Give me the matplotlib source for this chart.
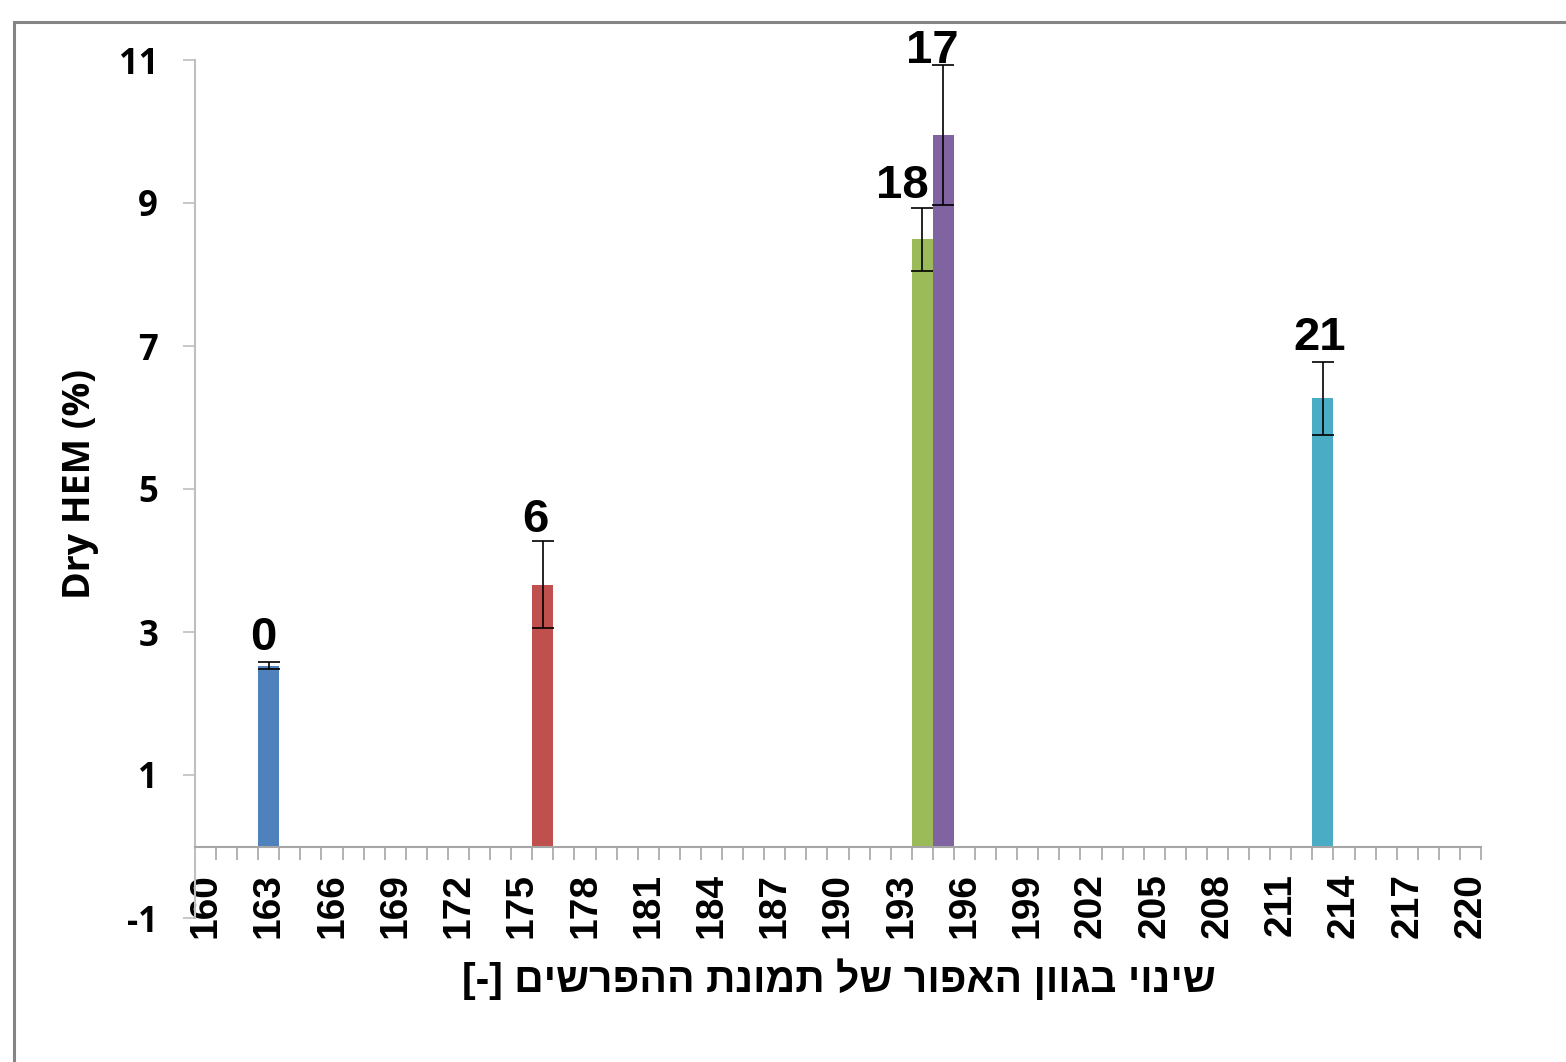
import matplotlib
matplotlib.use("Agg")
import matplotlib.pyplot as plt
import numpy as np
from matplotlib.patches import Rectangle

# category axis: every integer from 160 to 220, a label on every third one
categories = list(range(160, 221))
label_step = 3

# bars (category, mean, error, data label, colour)
bar_x = [163, 176, 194, 195, 213]
bar_values = [2.53, 3.66, 8.49, 9.95, 6.27]
bar_errors = [0.05, 0.61, 0.44, 0.98, 0.51]
bar_labels = ["0", "6", "18", "17", "21"]
bar_colors = ["#4F81BD", "#C0504D", "#9BBB59", "#8064A2", "#4BACC6"]
label_dx = [-5, -7, -20, -11, -3]   # nudge of the data labels, px
label_dy = [12, 9, 10, 2, 12]

y_ticks = [-1, 1, 3, 5, 7, 9, 11]
y_label = "Dry HEM (%)"
x_label = "שינוי בגוון האפור של תמונת ההפרשים"

W, H = 1566, 1062
fig = plt.figure(figsize=(W / 100, H / 100), dpi=100)
ax = fig.add_axes([195 / W, 1 - 918 / H, (1481 - 195) / W, (918 - 60) / H])

pos = [categories.index(x) for x in bar_x]
ax.bar(pos, bar_values, width=1.0, color=bar_colors, yerr=bar_errors,
       error_kw=dict(ecolor="black", elinewidth=1.2, capsize=8, capthick=1.2))

# data labels above the error bars
for p, v, e, lab, dx, dy in zip(pos, bar_values, bar_errors, bar_labels, label_dx, label_dy):
    ax.annotate(lab, (p, v + e), xytext=(dx * 0.72, dy * 0.72), textcoords="offset points",
                ha="center", va="baseline", fontsize=34, fontweight="bold",
                family="Liberation Sans")

ax.set_xlim(-0.5, len(categories) - 0.5)
ax.set_ylim(-1, 11)

# spines: y axis on the left, x axis crossing at zero
for s in ["top", "right"]:
    ax.spines[s].set_visible(False)
ax.spines["left"].set_color("#BFBFBF")
ax.spines["left"].set_linewidth(1.5)
ax.spines["bottom"].set_position(("data", 0))
ax.spines["bottom"].set_color("#A6A6A6")
ax.spines["bottom"].set_linewidth(1.5)

# x: labels at category centres, tick marks between categories
ax.set_xticks(range(0, len(categories), label_step))
ax.set_xticklabels([str(c) for c in categories[::label_step]], rotation=90,
                   fontsize=28, fontweight="bold", family="Liberation Sans")
ax.set_xticks(np.arange(-0.5, len(categories), 1), minor=True)
ax.tick_params(axis="x", which="major", length=0, pad=19)
ax.tick_params(axis="x", which="minor", direction="out", length=9.5,
               width=1.2, color="#A6A6A6")

ax.set_yticks(y_ticks)
ax.set_yticklabels([str(t) for t in y_ticks], fontsize=25, fontweight="bold",
                   family="Open Sans")
ax.tick_params(axis="y", direction="out", length=8.5, width=1.2,
               color="#BFBFBF", pad=18)

fig.text(80 / W, 1 - 484 / H, y_label, rotation=90, ha="center", va="center",
         fontsize=27, fontweight="bold", family="Open Sans")

# hebrew has to be put in visual order by hand
x_label_visual = "[-] " + x_label[::-1]
fig.text(839 / W, 1 - 979 / H, x_label_visual, ha="center", va="center",
         fontsize=29.5, fontweight="bold", family=["Liberation Sans", "DejaVu Sans"])

# chart area border (only left and top edges fall inside the picture)
fig.add_artist(Rectangle((14 / W, -0.1), 2, 1.1 - 22 / H, transform=fig.transFigure,
                         fill=False, edgecolor="#858585", linewidth=2.2))

fig.savefig("out.png", dpi=100)
